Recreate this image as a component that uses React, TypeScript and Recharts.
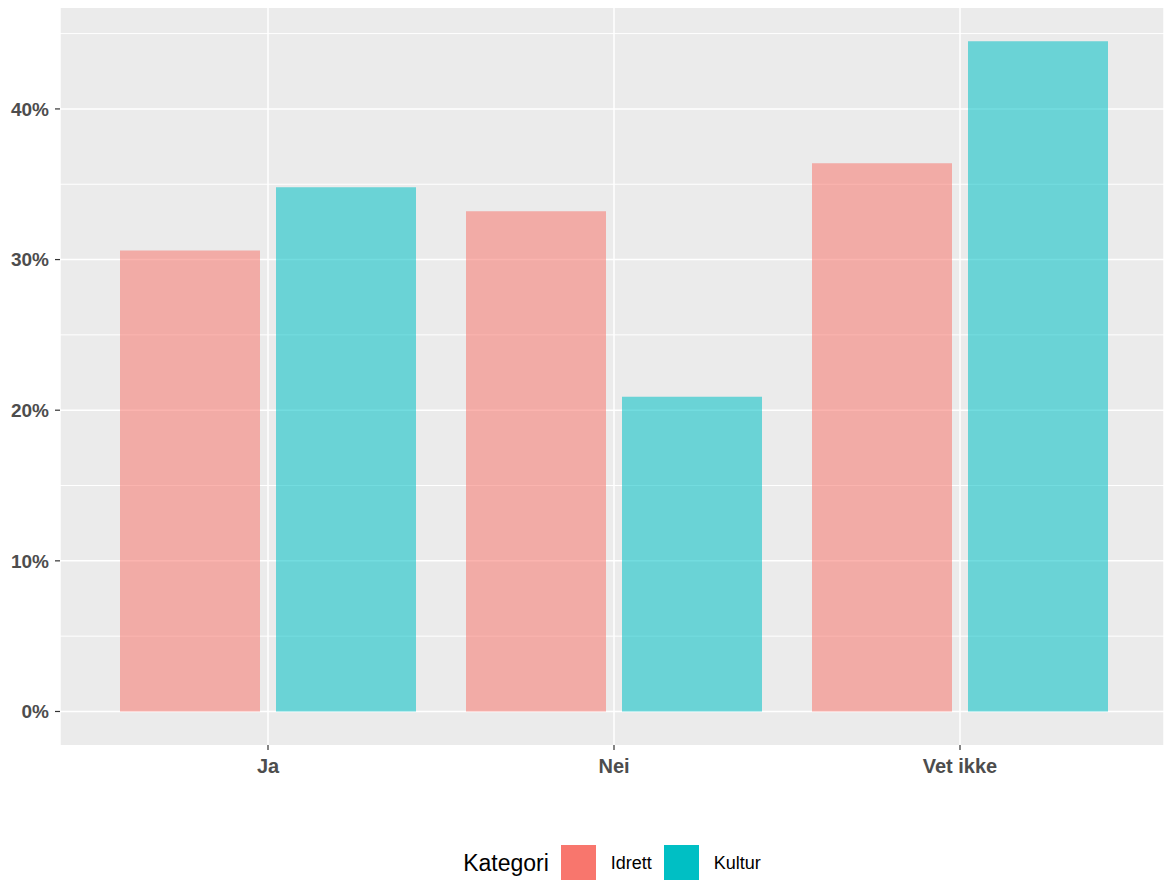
import { Bar, BarChart, CartesianGrid, Legend, XAxis, YAxis } from 'recharts';

const FONT = '"Liberation Sans", Arial, sans-serif';

// svaralternativ og andel (prosent) per kategori
const svar = ['Ja', 'Nei', 'Vet ikke'];
const idrett = [30.6, 33.2, 36.4];
const kultur = [34.8, 20.9, 44.5];
const kategorier = ['Idrett', 'Kultur'];
const yTicks = [0, 10, 20, 30, 40];
const minorTicks = [5, 15, 25, 35, 45];

const farger: Record<string, string> = { Idrett: '#F8766D', Kultur: '#00BFC4' };

const data = svar.map((s, i) => ({ svar: s, Idrett: idrett[i], Kultur: kultur[i] }));

function KategoriLegend() {
    return (
        <div style={{ display: 'flex', alignItems: 'center', justifyContent: 'center', fontFamily: FONT, color: '#000', height: 36 }}>
            <span style={{ fontSize: 23, marginRight: 12, position: 'relative', top: 1 }}>Kategori</span>
            {kategorier.map((k, i) => (
                <span key={k} style={{ display: 'flex', alignItems: 'center' }}>
                    <span style={{ display: 'inline-block', width: 35, height: 35, background: farger[k] }} />
                    <span style={{ fontSize: 18, marginLeft: 15, marginRight: i < kategorier.length - 1 ? 12 : 0, position: 'relative', top: 1 }}>{k}</span>
                </span>
            ))}
        </div>
    );
}

export default function App() {
    const yTickStyle = { fill: '#4D4D4D', fontSize: 19, fontWeight: 700, fontFamily: FONT };
    const xTickStyle = { fill: '#4D4D4D', fontSize: 20, fontWeight: 700, fontFamily: FONT };
    return (
        <div style={{ position: 'absolute', left: 0, top: 0, width: 1164, height: 882, background: '#fff' }}>
            <BarChart
                width={1164}
                height={882}
                data={data}
                margin={{ top: 8, right: 0, bottom: 87, left: 0 }}
                barSize={140}
                barGap={16}
            >
                <CartesianGrid
                    fill="#EBEBEB"
                    stroke="#FFFFFF"
                    strokeWidth={1}
                    vertical={false}
                    horizontalValues={minorTicks}
                />
                <CartesianGrid
                    stroke="#FFFFFF"
                    strokeWidth={1.5}
                    horizontalValues={yTicks}
                />
                <XAxis
                    dataKey="svar"
                    height={50}
                    padding={{ left: 35, right: 31 }}
                    axisLine={false}
                    tickLine={{ stroke: '#333333', strokeWidth: 1.2 }}
                    tickSize={5}
                    tickMargin={9}
                    tick={xTickStyle}
                />
                <YAxis
                    type="number"
                    width={60}
                    domain={[-2.225, 46.7]}
                    ticks={yTicks}
                    axisLine={false}
                    tickLine={{ stroke: '#333333', strokeWidth: 1.2 }}
                    tickSize={5}
                    tickMargin={6}
                    tick={yTickStyle}
                    tickFormatter={(v: number) => `${v}%`}
                />
                <Legend
                    layout="horizontal"
                    align="center"
                    verticalAlign="middle"
                    content={() => <KategoriLegend />}
                    wrapperStyle={{ top: 844, left: 60, width: 1104 }}
                />
                {kategorier.map((k) => (
                    <Bar key={k} dataKey={k} name={k} fill={farger[k]} fillOpacity={0.55} isAnimationActive={false} />
                ))}
            </BarChart>
        </div>
    );
}
